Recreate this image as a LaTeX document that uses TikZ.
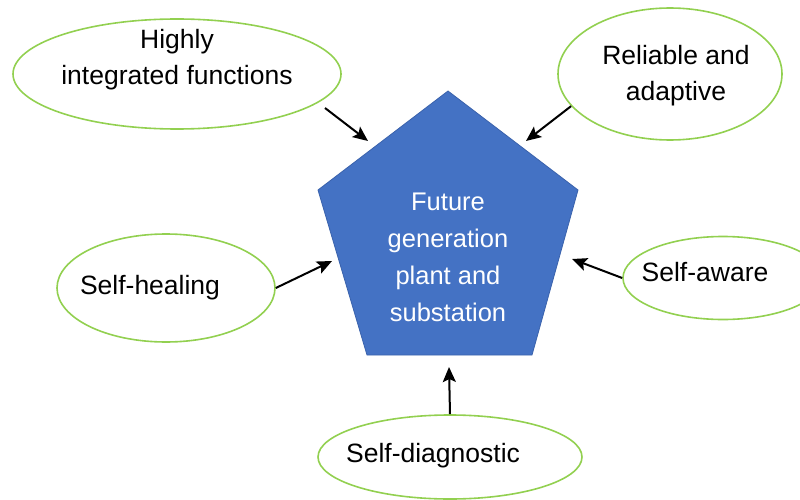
\documentclass[tikz,border=0pt]{standalone}
\usepackage{fontspec}
\setmainfont{Liberation Sans}
\usepackage{xcolor}
\usepackage{tikz}
\usetikzlibrary{shapes.geometric,arrows.meta}
\definecolor{bubblegreen}{HTML}{92D050}
\definecolor{plantblue}{HTML}{4472C4}
\definecolor{plantedge}{HTML}{3A62AC}

\begin{document}
\begin{tikzpicture}[x=1pt,y=-1pt]
        \tikzstyle{every node}+=[inner sep=0pt]
        \tikzstyle{bubble}=[ellipse, draw=bubblegreen, line width=1.6pt]
        \tikzstyle{bubbletext}=[font=\fontsize{26.5}{36}\selectfont, align=center]
        \tikzstyle{arr}=[-{Stealth[length=15pt,width=13pt,inset=3pt]}, line width=2pt]
        \useasboundingbox (0,0) rectangle (800,500);
        \coordinate (top) at (448,91);
        \coordinate (ul) at (318,190);
        \coordinate (ur) at (578,190);
        \coordinate (ll) at (367,355);
        \coordinate (lr) at (532,355);
        \fill [plantblue, draw=plantedge, line width=0.8pt] (top) -- (ur) -- (lr) -- (ll) -- (ul) -- cycle;
        \node [text=white, font=\fontsize{25.5}{37}\selectfont, align=center] (plant) at (448,257) {Future\\generation\\plant and\\substation};
        \node [bubble, minimum width=328pt, minimum height=110pt] (hif) at (177,74) {};
        \node [bubbletext] (hiflabel) at (177,60) {Highly\\integrated functions};
        \node [bubble, minimum width=224pt, minimum height=132pt] (rel) at (670,74) {};
        \node [bubbletext] (rellabel) at (676,76) {Reliable and\\adaptive};
        \node [bubble, minimum width=218pt, minimum height=108pt] (heal) at (166,288) {};
        \node [bubbletext] (heallabel) at (150,288) {Self-healing};
        \node [bubble, minimum width=200pt, minimum height=83pt] (aware) at (723,278) {};
        \node [bubbletext] (awarelabel) at (705,272) {Self-aware};
        \node [bubble, minimum width=264pt, minimum height=84pt] (diag) at (450,457) {};
        \node [bubbletext] (diaglabel) at (433,456) {Self-diagnostic};
        \coordinate (hifout) at (325,108);
        \coordinate (hiftip) at (368,141);
        \coordinate (reltip) at (526,141);
        \coordinate (healtip) at (332,261);
        \coordinate (awaretip) at (572,259);
        \coordinate (diagtip) at (449,367);
        \draw [arr] (hifout) -- (hiftip);
        \draw [arr] (rel.198) -- (reltip);
        \draw [arr] (heal.east) -- (healtip);
        \draw [arr] (aware.west) -- (awaretip);
        \draw [arr] (diag.north) -- (diagtip);
\end{tikzpicture}
\end{document}
